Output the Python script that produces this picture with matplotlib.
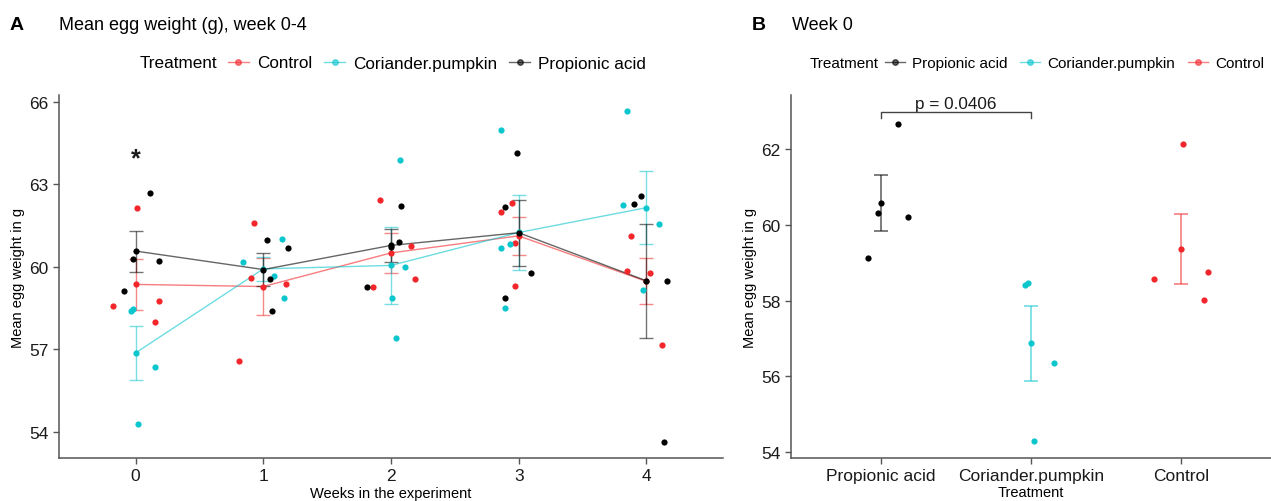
import matplotlib
matplotlib.use("Agg")
import matplotlib.pyplot as plt
from matplotlib.lines import Line2D
import numpy as np

plt.rcParams['font.family'] = ['Liberation Sans', 'DejaVu Sans']

weeks = [0, 1, 2, 3, 4]

# mean egg weight (g) of the four replicate pens, one row per week
control = [
    [58.56, 62.13, 58.75, 58.01],
    [61.59, 59.61, 59.37, 56.57],
    [62.44, 59.28, 60.75, 59.56],
    [61.99, 62.33, 60.88, 59.31],
    [61.14, 59.84, 59.76, 57.15],
]
coriander = [
    [58.40, 58.46, 56.35, 54.28],
    [60.19, 61.00, 59.65, 58.87],
    [63.90, 60.01, 58.87, 57.43],
    [64.98, 60.67, 60.84, 58.51],
    [65.65, 62.24, 61.55, 59.17],
]
propionic = [
    [59.13, 60.30, 62.67, 60.20],
    [60.97, 60.70, 59.56, 58.38],
    [59.25, 62.22, 60.92, 60.73],
    [64.15, 62.17, 59.78, 58.87],
    [62.58, 62.27, 59.48, 53.64],
]

# horizontal jitter of the pen points
control_jit = [
    [-0.18, 0.01, 0.18, 0.15],
    [-0.07, -0.10, 0.18, -0.19],
    [-0.09, -0.14, 0.16, 0.19],
    [-0.14, -0.05, -0.03, -0.03],
    [-0.12, -0.15, 0.03, 0.12],
]
coriander_jit = [
    [-0.04, -0.02, 0.15, 0.02],
    [-0.16, 0.15, 0.08, 0.16],
    [0.07, 0.11, 0.01, 0.04],
    [-0.14, -0.14, -0.07, -0.11],
    [-0.15, -0.18, 0.10, -0.03],
]
propionic_jit = [
    [-0.09, -0.02, 0.115, 0.18],
    [0.03, 0.19, 0.05, 0.07],
    [-0.19, 0.08, 0.06, 0.00],
    [-0.01, -0.11, 0.10, -0.11],
    [-0.04, -0.10, 0.16, 0.14],
]

RED = '#F2262B'
CYAN = '#0CC6CE'
BLACK = '#000000'
AXCOL = '#555555'

groups = [
    ("Control", control, control_jit, RED),
    ("Coriander.pumpkin", coriander, coriander_jit, CYAN),
    ("Propionic acid", propionic, propionic_jit, BLACK),
]


def mean_se(rows):
    a = np.array(rows)
    return a.mean(axis=1), a.std(axis=1, ddof=1) / np.sqrt(a.shape[1])


def style_axes(ax):
    for s in ['top', 'right']:
        ax.spines[s].set_visible(False)
    for s in ['left', 'bottom']:
        ax.spines[s].set_color(AXCOL)
        ax.spines[s].set_linewidth(1.1)
    ax.tick_params(colors=AXCOL, labelcolor='#1a1a1a', length=4, width=1.0,
                   labelsize=12.5)


def legend_key(color):
    return Line2D([0], [0], color=color, alpha=0.6, lw=1.0, marker='o',
                  markersize=4, markerfacecolor=color, markeredgecolor=color)


fig = plt.figure(figsize=(12.71, 5.02), dpi=100)

# ---- panel A: weeks 0-4
axA = fig.add_axes([59 / 1271, 43 / 502, 664 / 1271, 363 / 502])
style_axes(axA)
for name, rows, jit, col in groups:
    m, se = mean_se(rows)
    axA.errorbar(weeks, m, yerr=se, color=col, alpha=0.55, lw=1.0,
                 capsize=4.7, capthick=1.0, fmt='none', zorder=2)
    axA.plot(weeks, m, color=col, alpha=0.6, lw=1.0, zorder=2)
    for w, vals, offs in zip(weeks, rows, jit):
        axA.scatter(np.array(offs) + w, vals, s=20, color=col, lw=0, zorder=3)
    axA.scatter(weeks, m, s=20, color=col, lw=0, zorder=3)

axA.text(0, 63.93, "*", ha='center', va='center', fontsize=18,
         fontweight='bold', color='#1a1a1a')
axA.set_xlim(-0.6, 4.6)
axA.set_ylim(53.05, 66.25)
axA.set_xticks(weeks)
axA.set_yticks([54, 57, 60, 63, 66])
axA.set_xlabel("Weeks in the experiment", fontsize=10.5, labelpad=2)
axA.set_ylabel("Mean egg weight in g", fontsize=10.5, labelpad=3)

fig.text(10 / 1271, 1 - 26 / 502, "A", fontsize=14, fontweight='bold', va='center')
fig.text(59 / 1271, 1 - 26 / 502, "Mean egg weight (g), week 0-4", fontsize=13,
         va='center')
fig.text(140 / 1271, 1 - 64 / 502, "Treatment", fontsize=12.3, va='center')
fig.legend([legend_key(c) for _, _, _, c in groups], [g[0] for g in groups],
           loc='center left', bbox_to_anchor=(228 / 1271, 1 - 64 / 502),
           ncol=3, frameon=False, fontsize=12.3, handlelength=1.2,
           handletextpad=0.5, columnspacing=0.7, borderpad=0, borderaxespad=0)

# ---- panel B: week 0 only
orderB = [groups[2], groups[1], groups[0]]
cats = [1, 2, 3]
axB = fig.add_axes([791 / 1271, 43 / 502, 480 / 1271, 363 / 502])
style_axes(axB)
for x, (name, rows, jit, col) in zip(cats, orderB):
    vals = rows[0]
    m = np.mean(vals)
    se = np.std(vals, ddof=1) / np.sqrt(len(vals))
    axB.errorbar([x], [m], yerr=[se], color=col, alpha=0.55, lw=1.3,
                 capsize=5.3, capthick=1.3, fmt='none', zorder=2)
    axB.scatter(np.array(jit[0]) + x, vals, s=20, color=col, lw=0, zorder=3)
    axB.scatter([x], [m], s=20, color=col, lw=0, zorder=3)

axB.plot([1, 1, 2, 2], [62.83, 62.99, 62.99, 62.83], color='#444444', lw=1.0,
         clip_on=False)
axB.text(1.5, 63.02, "p = 0.0406", ha='center', va='bottom', fontsize=12.3,
         color='#1a1a1a')
axB.set_xlim(0.4, 3.6)
axB.set_ylim(53.84, 63.43)
axB.set_xticks(cats)
axB.set_xticklabels([g[0] for g in orderB])
axB.set_yticks([54, 56, 58, 60, 62])
axB.set_xlabel("Treatment", fontsize=10.5, labelpad=1)
axB.set_ylabel("Mean egg weight in g", fontsize=10.5, labelpad=3)

fig.text(752 / 1271, 1 - 26 / 502, "B", fontsize=14, fontweight='bold', va='center')
fig.text(792 / 1271, 1 - 26 / 502, "Week 0", fontsize=13, va='center')
fig.text(810 / 1271, 1 - 64 / 502, "Treatment", fontsize=11, va='center')
fig.legend([legend_key(g[3]) for g in orderB], [g[0] for g in orderB],
           loc='center left', bbox_to_anchor=(885 / 1271, 1 - 64 / 502),
           ncol=3, frameon=False, fontsize=11, handlelength=1.3,
           handletextpad=0.5, columnspacing=0.8, borderpad=0, borderaxespad=0)

fig.savefig("out.png", dpi=100)
